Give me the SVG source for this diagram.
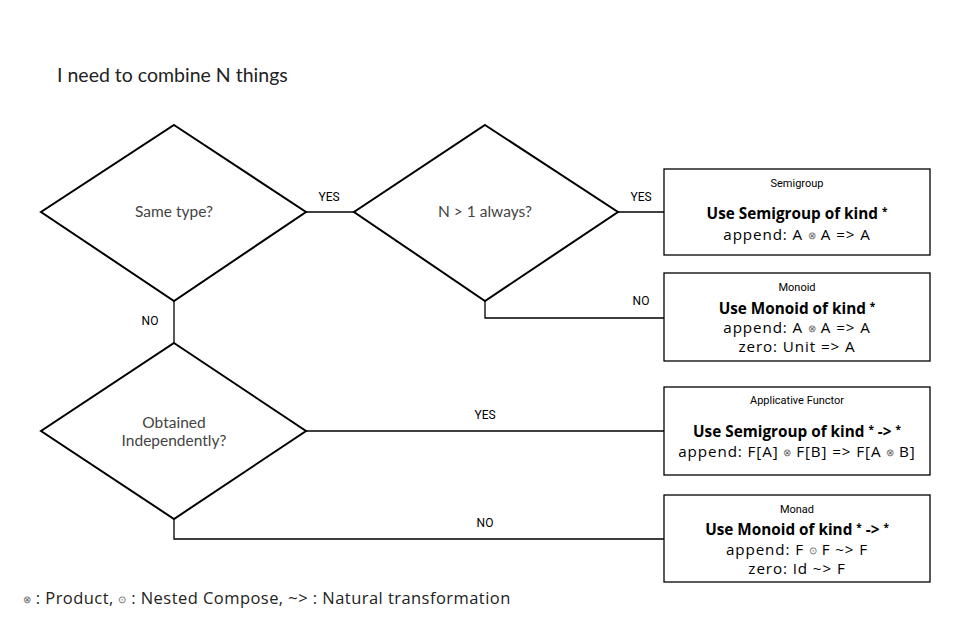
<svg xmlns="http://www.w3.org/2000/svg" width="957" height="635" viewBox="0 0 957 635">
<style>
.shape{fill:#fff;stroke:#000;stroke-width:2}
.box{fill:#fff;stroke:#000;stroke-width:1.3}
.conn{fill:none;stroke:#000;stroke-width:1.3}
.q{font-family:Lato,"Liberation Sans",sans-serif;font-size:15.5px;fill:#444;text-anchor:middle}
.lbl{font-family:Roboto,"Liberation Sans",sans-serif;font-size:12px;fill:#000;text-anchor:middle}
.ttl{font-family:Roboto,"Liberation Sans",sans-serif;font-size:11px;fill:#000;text-anchor:middle}
.b{font-family:"Open Sans","Liberation Sans",sans-serif;font-size:15.3px;font-weight:bold;fill:#000;text-anchor:middle}
.t{font-family:"Open Sans","Liberation Sans",sans-serif;font-size:15.2px;letter-spacing:0.9px;fill:#000;text-anchor:middle}
.sym{font-size:9.5px;fill:#666;letter-spacing:0}
</style>
<rect width="957" height="635" fill="#fff"/>
<text x="57" y="82" font-family="Lato,'Liberation Sans',sans-serif" font-size="19.5" fill="#222">I need to combine N things</text>
<g id="connectors">
<path class="conn" d="M306,212 H354"/>
<path class="conn" d="M618,212 H664"/>
<path class="conn" d="M485,301 V318 H664"/>
<path class="conn" d="M174,301 V343"/>
<path class="conn" d="M306,431 H664"/>
<path class="conn" d="M174,519 V539 H664"/>
<text class="lbl" x="329" y="201">YES</text>
<text class="lbl" x="641" y="201">YES</text>
<text class="lbl" x="641" y="305">NO</text>
<text class="lbl" x="150" y="325">NO</text>
<text class="lbl" x="485" y="419">YES</text>
<text class="lbl" x="485" y="527">NO</text>
</g>
<g id="d1">
<polygon class="shape" points="174,125 306,212 174,301 41,212"/>
<text class="q" x="174" y="217">Same type?</text>
</g>
<g id="d2">
<polygon class="shape" points="485,125 618,212 485,301 354,212"/>
<text class="q" x="485" y="217">N &gt; 1 always?</text>
</g>
<g id="d3">
<polygon class="shape" points="174,343 306,431 174,519 41,431"/>
<text class="q" x="174" y="428">Obtained</text>
<text class="q" x="174" y="446">Independently?</text>
</g>
<g id="semigroup">
<rect class="box" x="664" y="169" width="266" height="86"/>
<text class="ttl" x="797" y="187">Semigroup</text>
<text class="b" x="797" y="219">Use Semigroup of kind <tspan font-size="10" dy="-4">*</tspan></text>
<text class="t" x="797" y="240">append: A <tspan class="sym" dy="-1">⊗</tspan><tspan dy="1"> A =&gt; A</tspan></text>
</g>
<g id="monoid">
<rect class="box" x="664" y="273" width="266" height="88"/>
<text class="ttl" x="797" y="291">Monoid</text>
<text class="b" x="797" y="314">Use Monoid of kind <tspan font-size="10" dy="-4">*</tspan></text>
<text class="t" x="797" y="333">append: A <tspan class="sym" dy="-1">⊗</tspan><tspan dy="1"> A =&gt; A</tspan></text>
<text class="t" x="797" y="352">zero: Unit =&gt; A</text>
</g>
<g id="applicative">
<rect class="box" x="664" y="387" width="266" height="88"/>
<text class="ttl" x="797" y="404">Applicative Functor</text>
<text class="b" x="797" y="437">Use Semigroup of kind <tspan font-size="10" dy="-4">*</tspan><tspan dy="4"> -&gt; </tspan><tspan font-size="10" dy="-4">*</tspan></text>
<text class="t" x="797" y="457">append: F[A] <tspan class="sym" dy="-1">⊗</tspan><tspan dy="1"> F[B] =&gt; F[A </tspan><tspan class="sym" dy="-1">⊗</tspan><tspan dy="1"> B]</tspan></text>
</g>
<g id="monad">
<rect class="box" x="664" y="495" width="266" height="87"/>
<text class="ttl" x="797" y="513">Monad</text>
<text class="b" x="797" y="535">Use Monoid of kind <tspan font-size="10" dy="-4">*</tspan><tspan dy="4"> -&gt; </tspan><tspan font-size="10" dy="-4">*</tspan></text>
<text class="t" x="797" y="555">append: F <tspan class="sym" dy="-1">⊙</tspan><tspan dy="1"> F ~&gt; F</tspan></text>
<text class="t" x="797" y="574">zero: Id ~&gt; F</text>
</g>
<text x="23" y="604" font-family="'Open Sans','Liberation Sans',sans-serif" font-size="16.5" letter-spacing="0.45" fill="#222"><tspan class="sym" dy="-1">⊗</tspan><tspan dy="1"> : Product, </tspan><tspan class="sym" dy="-1">⊙</tspan><tspan dy="1"> : Nested Compose, ~&gt; : Natural transformation</tspan></text>
</svg>
